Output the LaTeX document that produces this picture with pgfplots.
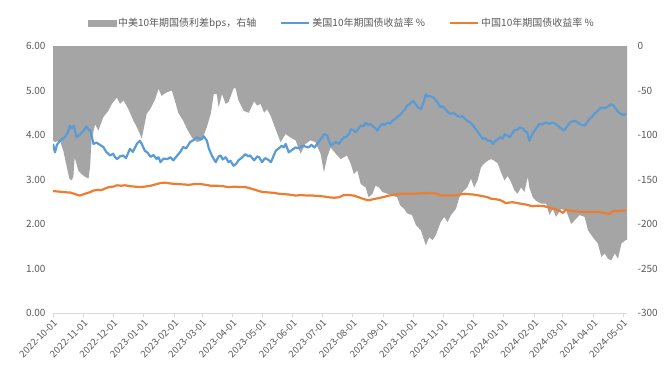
\documentclass[border=0pt]{standalone}
\usepackage{fontspec}
\setmainfont{Noto Sans CJK SC}
\usepackage{pgfplots}
\pgfplotsset{compat=1.18}
\definecolor{sgray}{HTML}{A5A5A5}
\definecolor{sblue}{HTML}{5B9BD5}
\definecolor{sorange}{HTML}{ED7D31}
\definecolor{txt}{HTML}{595959}
\definecolor{axl}{HTML}{D9D9D9}
\begin{document}
\begin{tikzpicture}
\path[use as bounding box] (0,0) rectangle (664pt,373pt);
% right axis: spread area
\begin{axis}[at={(53pt,60pt)}, anchor=south west, scale only axis,
  width=574pt, height=267pt, xmin=0, xmax=582, ymin=-300, ymax=0,
  axis y line*=right, axis x line=none,
  y axis line style={draw=none},
  ytick={-300,-250,-200,-150,-100,-50,0},
  ytick style={draw=none},
  yticklabel style={font=\fontsize{10}{12}\selectfont, color=txt, anchor=west, xshift=7pt},
  /pgf/number format/assume math mode=true]
\addplot[fill=sgray, draw=none] coordinates {
(0,-106) (2,-108) (7,-106) (10.5,-118) (14,-136) (16.6,-149) (19,-151) (20.6,-147) (22,-125) (25.7,-140) (29,-144) (32.5,-147) (36,-149) (37.6,-136) (39,-106) (42.7,-88) (46,-95) (51,-80) (56,-73) (59.7,-65) (64.7,-58) (68,-65) (71.5,-61) (76.5,-71) (81.6,-84) (86.7,-95) (90,-104) (95,-76) (98.5,-71) (103.5,-60) (107,-48) (110,-56) (115.5,-52) (120.5,-50) (124,-63) (127,-75) (132,-84) (135.8,-93) (141,-103) (146,-108) (151,-106) (156,-91) (160,-76) (163,-54) (166,-54) (168,-69) (171.4,-54) (175,-65) (178,-63) (183,-48) (185,-47) (188,-61) (193.5,-73) (198.5,-75) (204,-62) (207,-67) (210.4,-65) (214,-75) (217,-71) (220.5,-78) (225.6,-93) (230.7,-108) (235.8,-99) (241,-103) (246,-106) (251,-121) (256,-110) (261,-106) (266,-108) (271.3,-121) (274.7,-142) (278,-125) (281.5,-114) (286.6,-121) (291.7,-127) (298,-123) (301.8,-132) (305,-144) (308.6,-140) (312,-155) (317,-159) (320,-170) (324,-166) (327,-157) (330.6,-159) (334,-164) (339,-166) (344,-168) (349,-170) (352,-179) (356,-183) (359,-188) (364,-190) (367.9,-201) (373,-207) (378,-224) (381.4,-215) (384.8,-218) (388,-213) (393,-198) (396.7,-192) (400,-198) (403.5,-190) (408.6,-183) (412,-170) (415.3,-164) (420,-159) (423.8,-149) (427,-159) (430.5,-151) (434,-136) (437.3,-132) (440.7,-129) (444,-127) (447.5,-129) (451,-132) (454.3,-142) (457.7,-151) (461,-146) (464.4,-153) (467.8,-162) (471,-166) (474.6,-159) (478,-164) (481.4,-147) (483,-159) (486.4,-170) (489.8,-174) (494.9,-177) (500,-177) (503.4,-190) (506.8,-183) (510,-192) (515.2,-183) (520.3,-185) (525.4,-200) (528.8,-196) (533.9,-190) (539,-192) (542.4,-207) (547.5,-215) (552.5,-222) (556,-237) (559.3,-233) (562.7,-239) (566,-241) (569.5,-233) (572.9,-239) (576.3,-222) (580.7,-218) (582,-218)
} \closedcycle;
\end{axis}
% left axis: yields
\begin{axis}[at={(53pt,60pt)}, anchor=south west, scale only axis,
  width=574pt, height=267pt, xmin=0, xmax=582, ymin=0, ymax=6,
  axis y line*=left, axis x line*=bottom,
  y axis line style={draw=none},
  x axis line style={draw=axl, line width=0.8pt},
  ytick={0,1,2,3,4,5,6},
  ytick style={draw=none},
  yticklabel style={font=\fontsize{10}{12}\selectfont, color=txt, /pgf/number format/.cd, fixed, zerofill, precision=2},
  xtick={0,31,61,92,123,151,182,212,243,273,304,335,365,396,426,457,488,517,548,578},
  xticklabels={2022-10-01,2022-11-01,2022-12-01,2023-01-01,2023-02-01,2023-03-01,2023-04-01,2023-05-01,2023-06-01,2023-07-01,2023-08-01,2023-09-01,2023-10-01,2023-11-01,2023-12-01,2024-01-01,2024-02-01,2024-03-01,2024-04-01,2024-05-01},
  xtick style={draw=axl, line width=0.8pt},
  tick align=outside, major tick length=4pt,
  xticklabel style={font=\fontsize{9.5}{11}\selectfont, color=txt, rotate=45, anchor=north east, inner sep=1pt},
  /pgf/number format/assume math mode=true,
  legend style={at={(0.503,1)}, anchor=south, yshift=14pt, draw=none, fill=none,
    font=\fontsize{10}{12}\selectfont, text=txt, legend columns=3,
    /tikz/every even column/.append style={column sep=22pt}},
  legend cell align=left,
  legend image code/.code={\draw[#1] (0pt,0pt) -- (28pt,0pt);}]
\addlegendimage{legend image code/.code={\fill[sgray] (0pt,-3pt) rectangle (28pt,3pt);}}
\addlegendentry{中美10年期国债利差bps，右轴}
\addplot[sblue, line width=2.2pt, line join=round] coordinates {
(0,3.80)(2,3.61)(4,3.78)(7,3.87)(10,3.92)(12,3.95)(15,4.05)(17,4.21)(19,4.15)(21,4.21)(24,3.95)(27,4.00)(29,4.05)(32,4.12)(34,4.19)(36,4.12)(38,4.10)(41,3.80)(44,3.83)(46,3.80)(49,3.76)(51,3.73)(54,3.62)(58,3.54)(61,3.58)(63,3.50)(65,3.46)(68,3.52)(71,3.54)(74,3.48)(78,3.69)(81,3.62)(85,3.80)(88,3.87)(90,3.80)(93,3.65)(96,3.60)(99,3.51)(102,3.55)(105,3.46)(107,3.50)(109,3.39)(112,3.47)(116,3.46)(119,3.50)(122,3.43)(126,3.54)(129,3.62)(132,3.73)(135,3.70)(139,3.84)(142,3.88)(146,3.95)(149,3.91)(151,3.91)(153,3.97)(156,3.87)(158,3.70)(161,3.54)(163,3.46)(165,3.39)(168,3.52)(170,3.54)(172,3.45)(175,3.50)(178,3.39)(180,3.42)(183,3.31)(186,3.36)(188,3.43)(192,3.50)(195,3.57)(198,3.52)(200,3.54)(202,3.48)(204,3.43)(207,3.52)(209,3.50)(212,3.39)(215,3.48)(217,3.46)(219,3.43)(221,3.39)(224,3.55)(226,3.65)(229,3.70)(232,3.76)(234,3.72)(236,3.80)(239,3.61)(242,3.66)(246,3.72)(249,3.70)(253,3.76)(256,3.74)(259,3.72)(262,3.78)(265,3.72)(268,3.80)(270,3.87)(273,3.95)(275,4.02)(278,3.99)(280,3.85)(282,3.76)(285,3.82)(287,3.84)(290,3.80)(292,3.87)(295,3.95)(297,3.95)(300,4.02)(302,4.13)(305,4.10)(307,4.06)(310,4.15)(312,4.21)(315,4.20)(317,4.28)(320,4.22)(322,4.25)(324,4.20)(326,4.17)(329,4.10)(331,4.18)(334,4.25)(336,4.22)(339,4.28)(342,4.26)(344,4.32)(347,4.36)(349,4.40)(352,4.45)(354,4.51)(357,4.58)(359,4.66)(362,4.70)(365,4.77)(368,4.68)(370,4.62)(373,4.58)(376,4.75)(378,4.92)(380,4.86)(381,4.88)(384,4.86)(386,4.84)(388,4.78)(390,4.73)(393,4.62)(395,4.65)(398,4.58)(400,4.52)(403,4.47)(406,4.50)(410,4.43)(413,4.40)(415,4.43)(418,4.36)(420,4.32)(423,4.28)(426,4.21)(428,4.15)(431,4.06)(433,4.00)(436,3.91)(438,3.93)(441,3.87)(444,3.87)(446,3.80)(449,3.88)(451,3.90)(453,3.95)(456,3.92)(458,4.02)(461,3.98)(463,3.95)(466,4.05)(468,4.11)(471,4.12)(473,4.17)(476,4.15)(478,4.10)(481,4.05)(483,3.87)(486,4.02)(489,4.12)(491,4.18)(493,4.25)(496,4.24)(500,4.28)(503,4.25)(507,4.28)(510,4.24)(512,4.21)(515,4.15)(518,4.10)(521,4.18)(524,4.28)(526,4.30)(529,4.32)(532,4.28)(534,4.25)(537,4.22)(539,4.21)(542,4.30)(544,4.36)(547,4.42)(549,4.48)(551,4.51)(554,4.58)(556,4.62)(559,4.60)(561,4.62)(564,4.66)(566,4.69)(568,4.67)(571,4.58)(573,4.52)(576,4.47)(579,4.45)(581,4.48)
};
\addlegendentry{美国10年期国债收益率 \%}
\addplot[sorange, line width=2.2pt, line join=round] coordinates {
(0,2.74)(5,2.73)(10,2.72)(14,2.71)(17,2.71)(20,2.69)(24,2.66)(27,2.64)(30,2.66)(34,2.69)(38,2.72)(41,2.75)(45,2.77)(49,2.76)(53,2.80)(57,2.83)(61,2.84)(65,2.87)(69,2.86)(73,2.87)(78,2.85)(83,2.84)(88,2.83)(93,2.84)(99,2.86)(104,2.89)(109,2.92)(114,2.93)(119,2.91)(125,2.90)(132,2.89)(138,2.88)(144,2.90)(149,2.90)(155,2.88)(160,2.86)(166,2.86)(172,2.85)(178,2.83)(185,2.84)(190,2.83)(195,2.83)(200,2.80)(206,2.76)(212,2.72)(218,2.71)(224,2.70)(229,2.68)(235,2.67)(240,2.66)(246,2.64)(252,2.65)(257,2.64)(263,2.64)(268,2.63)(274,2.62)(280,2.60)(285,2.59)(290,2.60)(293,2.63)(295,2.65)(300,2.65)(305,2.64)(310,2.60)(315,2.56)(320,2.53)(325,2.56)(330,2.58)(334,2.60)(341,2.64)(347,2.66)(354,2.68)(360,2.68)(366,2.68)(372,2.69)(378,2.69)(383,2.70)(388,2.69)(393,2.64)(400,2.64)(407,2.64)(412,2.66)(417,2.68)(422,2.67)(427,2.66)(432,2.64)(437,2.62)(441,2.60)(444,2.57)(448,2.56)(453,2.54)(456,2.51)(459,2.47)(462,2.48)(466,2.49)(471,2.47)(476,2.45)(481,2.43)(486,2.40)(492,2.41)(498,2.40)(503,2.37)(507,2.34)(510,2.33)(513,2.30)(515,2.28)(517,2.25)(520,2.32)(524,2.30)(527,2.29)(533,2.28)(540,2.27)(547,2.27)(554,2.27)(559,2.25)(563,2.22)(566,2.25)(568,2.29)(572,2.29)(575,2.29)(578,2.30)(581,2.31)
};
\addlegendentry{中国10年期国债收益率 \%}
\end{axis}
\end{tikzpicture}
\end{document}
